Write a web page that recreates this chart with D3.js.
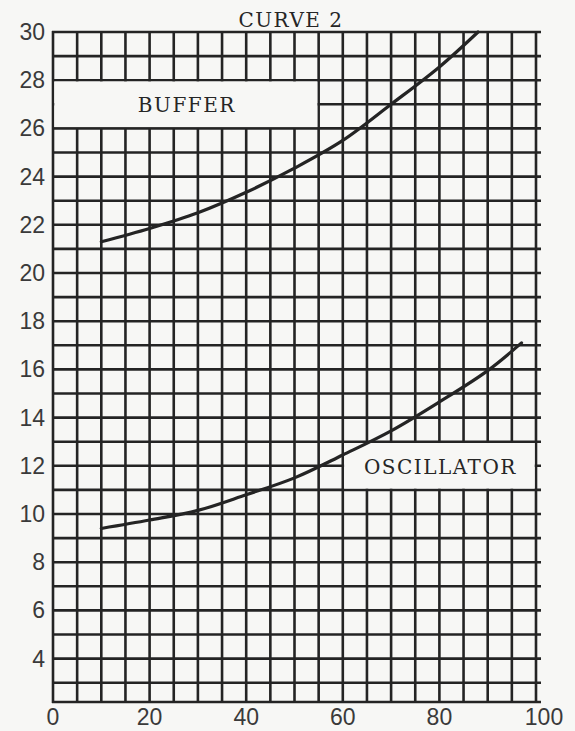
<!DOCTYPE html>
<html>
<head>
<meta charset="utf-8">
<script src="https://cdn.jsdelivr.net/npm/d3@7"></script>
<style>
  html, body { margin: 0; padding: 0; background: #f7f7f5; }
  svg { display: block; }
  .tick-label { font-family: "Liberation Sans", sans-serif; font-size: 23px; fill: #3a3a3a; }
  .type { font-family: "DejaVu Serif", serif; font-size: 20px; fill: #262626; letter-spacing: 1.5px; }
</style>
</head>
<body>
<div id="chart"></div>
<script>
// Curve data
const bufferX = [10, 20, 30, 40, 50, 60, 70, 80, 88];
const bufferY = [21.3, 21.85, 22.5, 23.35, 24.35, 25.5, 27.0, 28.55, 30];
const oscX = [10, 20, 30, 40, 50, 60, 70, 80, 90, 97];
const oscY = [9.4, 9.75, 10.15, 10.8, 11.5, 12.45, 13.45, 14.65, 15.95, 17.1];

const xTicks = [0, 20, 40, 60, 80, 100];
const yTicks = [4, 6, 8, 10, 12, 14, 16, 18, 20, 22, 24, 26, 28, 30];

// label boxes where the grid was left blank
const labelNames = ['BUFFER', 'OSCILLATOR'];
const labelX0 = [0, 60];
const labelX1 = [55, 100];
const labelY0 = [26, 11];
const labelY1 = [28, 13];

const W = 575, H = 731;
const bg = '#f7f7f5';
const ink = '#242424';

const svg = d3.select('#chart').append('svg')
    .attr('width', W)
    .attr('height', H);

svg.append('rect').attr('width', W).attr('height', H).attr('fill', bg);

const x = d3.scaleLinear().domain([0, 100]).range([53, 536]);
const y = d3.scaleLinear().domain([2.2, 30]).range([702, 32]);

// grid: vertical every 5, horizontal every 1
const grid = svg.append('g').attr('stroke', ink).attr('stroke-width', 2.6);

d3.range(0, 101, 5).forEach(v => {
    grid.append('line')
        .attr('x1', x(v)).attr('x2', x(v))
        .attr('y1', y(30) - 1).attr('y2', y(2.2) + 1);
});

d3.range(3, 31, 1).concat([2.2]).forEach(v => {
    grid.append('line')
        .attr('x1', x(0) - 1).attr('x2', x(100) + 5)
        .attr('y1', y(v)).attr('y2', y(v));
});

// blank out label boxes
labelNames.forEach((name, i) => {
    const x0 = x(labelX0[i]) + 1.3, x1 = x(labelX1[i]) - 1.3;
    const y0 = y(labelY1[i]) + 1.3, y1 = y(labelY0[i]) - 1.3;
    svg.append('rect')
        .attr('x', x0).attr('y', y0)
        .attr('width', x1 - x0).attr('height', y1 - y0)
        .attr('fill', bg);
    svg.append('text')
        .attr('class', 'type')
        .attr('x', (x0 + x1) / 2 + 1)
        .attr('y', (y0 + y1) / 2 + 8)
        .attr('text-anchor', 'middle')
        .text(name);
});

// curves
const line = d3.line()
    .x(d => x(d[0]))
    .y(d => y(d[1]))
    .curve(d3.curveCatmullRom);

[[bufferX, bufferY], [oscX, oscY]].forEach(([xs, ys]) => {
    svg.append('path')
        .datum(xs.map((v, i) => [v, ys[i]]))
        .attr('d', line)
        .attr('fill', 'none')
        .attr('stroke', ink)
        .attr('stroke-width', 3.2)
        .attr('stroke-linecap', 'round');
});

// axis labels
svg.selectAll('.ylab')
    .data(yTicks)
    .enter().append('text')
    .attr('class', 'tick-label')
    .attr('x', 45)
    .attr('y', d => y(d) + 8)
    .attr('text-anchor', 'end')
    .text(d => d);

svg.selectAll('.xlab')
    .data(xTicks)
    .enter().append('text')
    .attr('class', 'tick-label')
    .attr('x', d => x(d) + (d === 100 ? 8 : 0))
    .attr('y', 725)
    .attr('text-anchor', 'middle')
    .text(d => d);

// title
svg.append('text')
    .attr('class', 'type')
    .attr('x', 291)
    .attr('y', 27)
    .attr('text-anchor', 'middle')
    .text('CURVE 2');
</script>
</body>
</html>
